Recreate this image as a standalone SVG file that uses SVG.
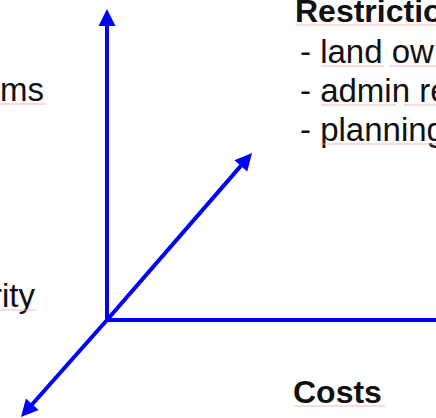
<svg xmlns="http://www.w3.org/2000/svg" width="436" height="418" viewBox="0 0 436 418">
  <defs>
    <marker id="head" markerUnits="userSpaceOnUse" markerWidth="20" markerHeight="20" viewBox="0 -10 20 20" refX="0" refY="0" orient="auto" overflow="visible">
      <path d="M-1,-8.5 L16,0 L-1,8.5 Z" fill="#0000ff"/>
    </marker>
  </defs>
  <style>
    .axis { stroke: #0000ff; stroke-width: 4; fill: none; stroke-linecap: butt; }
    .t { font-family: "Liberation Sans", Arial, sans-serif; font-size: 33px; fill: #111111; }
    .b { font-weight: bold; font-size: 32px; }
    .sq { stroke: #f3a4a4; stroke-width: 1.2; fill: none; opacity: 0.8; }
  </style>
  <rect width="436" height="418" fill="#ffffff"/>

  <!-- axes -->
  <g id="connectors">
    <line class="axis" x1="107" y1="322" x2="107" y2="25" marker-end="url(#head)"/>
    <line class="axis" x1="105" y1="320" x2="436" y2="320"/>
    <line class="axis" x1="107" y1="320" x2="241.5" y2="165.1" marker-end="url(#head)"/>
    <line class="axis" x1="107" y1="320" x2="31.6" y2="405" marker-end="url(#head)"/>
  </g>

  <!-- labels -->
  <g id="restrictions">
    <text class="t b" x="295" y="22">Restrictions</text>
    <text class="t" x="300" y="63">- land ownership</text>
    <text class="t" x="300" y="102">- admin regulations</text>
    <text class="t" x="300" y="141">- planning</text>
    <path class="sq" d="M296,25 H436"/>
    <path class="sq" d="M321,66 H384 M389,66 H436"/>
    <path class="sq" d="M321,105 H396 M404,105 H436"/>
    <path class="sq" d="M321,144 H436"/>
  </g>
  <g id="problems">
    <text class="t" x="44" y="101" text-anchor="end">ems</text>
    <path class="sq" d="M0,104 H46"/>
  </g>
  <g id="priority">
    <text class="t" x="35" y="307" text-anchor="end">rity</text>
    <path class="sq" d="M0,310 H36"/>
  </g>
  <g id="costs">
    <text class="t b" x="293" y="403">Costs</text>
    <path class="sq" d="M294,406 H385"/>
  </g>
</svg>
